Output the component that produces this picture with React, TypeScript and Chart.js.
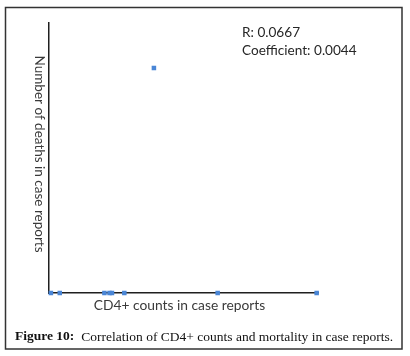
import React, { useEffect, useRef } from "react";
import { Chart, registerables } from "chart.js";

Chart.register(...registerables);

const cd4Counts = [7, 40, 206, 225, 234, 280, 390, 627, 995];
const deaths = [0, 0, 0, 0, 0, 0, 5, 0, 0];
const xMax = 1000;
const yMax = 6;
const xTitle = "CD4+ counts in case reports";
const yTitle = "Number of deaths in case reports";
const statLines = ["R: 0.0667", "Coefficient: 0.0044"];
const captionBold = "Figure 10:";
const captionText = "Correlation of CD4+ counts and mortality in case reports.";

const W = 410;
const H = 356;
const SANS = "Lato, 'Open Sans', sans-serif";
const SERIF = "'Liberation Serif', 'DejaVu Serif', serif";

const decorPlugin = {
  id: "decor",
  beforeDraw(chart: any) {
    const ctx = chart.ctx as CanvasRenderingContext2D;
    ctx.save();
    ctx.fillStyle = "#ffffff";
    ctx.fillRect(0, 0, W, H);
    ctx.restore();
  },
  afterDraw(chart: any) {
    const ctx = chart.ctx as CanvasRenderingContext2D;
    const area = chart.chartArea;
    ctx.save();
    // outer frame
    ctx.strokeStyle = "#333333";
    ctx.lineWidth = 1.5;
    ctx.strokeRect(5.5, 7.5, 396.5, 341.5);

    // x title
    ctx.fillStyle = "#3a3a3a";
    ctx.font = `13.8px ${SANS}`;
    ctx.textAlign = "center";
    ctx.textBaseline = "middle";
    ctx.fillText(xTitle, (area.left + area.right) / 2 - 4, 306);

    // y title (rotated clockwise)
    ctx.save();
    ctx.translate(39.5, 154);
    ctx.rotate(Math.PI / 2);
    ctx.font = `13.5px ${SANS}`;
    ctx.fillText(yTitle, 0, 0);
    ctx.restore();

    // stats
    ctx.fillStyle = "#262626";
    ctx.font = `13.6px ${SANS}`;
    ctx.textAlign = "left";
    ctx.fillText(statLines[0], 242, 33);
    ctx.fillText(statLines[1], 242, 51);

    // caption
    ctx.fillStyle = "#111111";
    ctx.font = `bold 13.5px ${SERIF}`;
    ctx.textAlign = "left";
    const cy = 337;
    ctx.fillText(captionBold, 15, cy);
    const bw = ctx.measureText(captionBold).width;
    ctx.font = `13.5px ${SERIF}`;
    ctx.fillText(captionText, 15 + bw + 7, cy);
    ctx.restore();
  },
};

export default function App() {
  const ref = useRef<HTMLCanvasElement | null>(null);

  useEffect(() => {
    if (!ref.current) return;
    const data = cd4Counts.map((x, i) => ({ x, y: deaths[i] }));
    const chart = new Chart(ref.current, {
      type: "scatter",
      data: {
        datasets: [
          {
            data,
            pointStyle: "rect",
            pointRadius: 3.2,
            pointBorderWidth: 0,
            backgroundColor: "#4a86d6",
            borderColor: "#4a86d6",
            clip: false as any,
          },
        ],
      },
      options: {
        responsive: false,
        animation: false,
        devicePixelRatio: 1,
        layout: { padding: { left: 49, top: 23, right: W - 318, bottom: H - 293 } },
        plugins: { legend: { display: false }, tooltip: { enabled: false } },
        scales: {
          x: {
            type: "linear",
            min: 0,
            max: xMax,
            grid: { display: false, drawTicks: false },
            ticks: { display: false },
            border: { display: true, color: "#1f1f1f", width: 1.5 },
          },
          y: {
            type: "linear",
            min: 0,
            max: yMax,
            grid: { display: false, drawTicks: false },
            ticks: { display: false },
            border: { display: true, color: "#1f1f1f", width: 1.5 },
          },
        },
      },
      plugins: [decorPlugin],
    });
    return () => chart.destroy();
  }, []);

  return (
    <div style={{ position: "absolute", left: 0, top: 0, width: W, height: H }}>
      <canvas ref={ref} width={W} height={H} style={{ display: "block", width: W, height: H }} />
    </div>
  );
}
